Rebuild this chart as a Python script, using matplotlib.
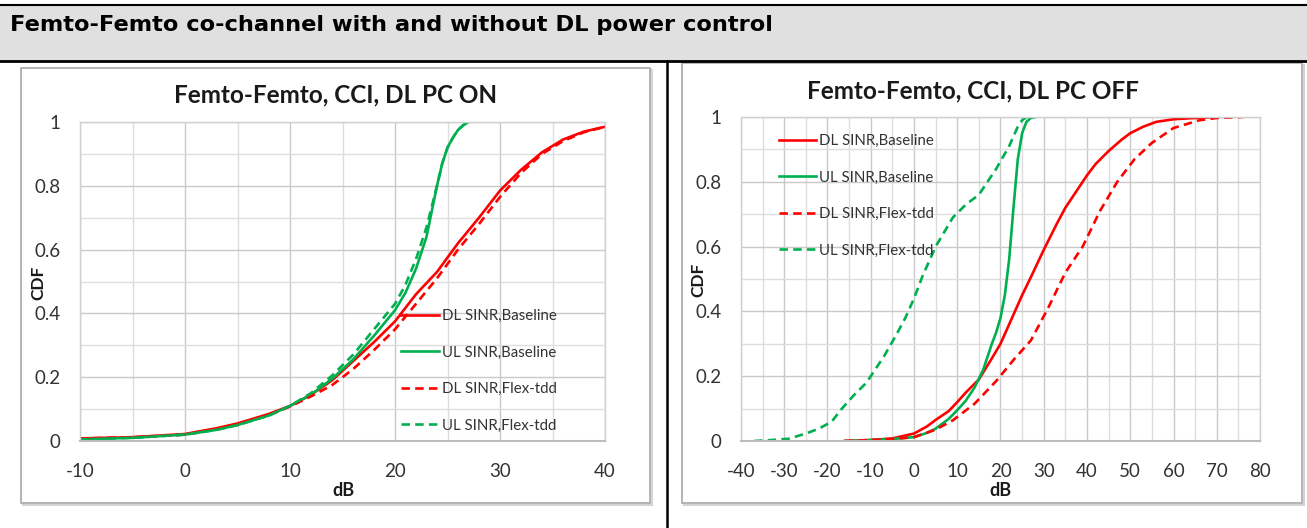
"""
Femto-Femto co-channel CDF charts (DL power control ON / OFF), laid out
like the table cell they were pasted into.
"""

import matplotlib
matplotlib.use('Agg')
import matplotlib.pyplot as plt
from matplotlib.patches import Rectangle
from matplotlib.lines import Line2D
from matplotlib.ticker import MultipleLocator, FuncFormatter

W, H = 1307, 528

RED = '#ff0000'
GREEN = '#00b050'
CHART_FONT = ['Lato', 'DejaVu Sans']
plt.rcParams['axes.unicode_minus'] = False

HEADER = 'Femto-Femto co-channel with and without DL power control'
TITLES = ['Femto-Femto, CCI, DL PC ON', 'Femto-Femto, CCI, DL PC OFF']
LABELS = ['DL SINR,Baseline', 'UL SINR,Baseline', 'DL SINR,Flex-tdd', 'UL SINR,Flex-tdd']

# ---- DL PC ON (left chart) ----
on_dl_base_x = [-10, -5, 0, 3, 5, 8, 10, 12, 14, 16, 18, 20, 22, 24, 26, 28, 30, 32, 34, 36, 38, 40]
on_dl_base_y = [0.008, 0.012, 0.022, 0.04, 0.055, 0.085, 0.11, 0.145, 0.19, 0.25, 0.31, 0.375,
                0.46, 0.53, 0.62, 0.70, 0.785, 0.85, 0.905, 0.945, 0.97, 0.985]
on_ul_base_x = [-10, -5, 0, 3, 5, 8, 10, 12, 14, 16, 18, 20, 21, 22, 23, 24, 24.5, 25, 25.5, 26, 26.5, 27]
on_ul_base_y = [0.005, 0.01, 0.02, 0.035, 0.05, 0.08, 0.11, 0.145, 0.195, 0.255, 0.33, 0.41,
                0.465, 0.54, 0.64, 0.80, 0.87, 0.92, 0.95, 0.975, 0.99, 1.0]
on_dl_flex_x = [-10, -5, 0, 3, 5, 8, 10, 12, 14, 16, 18, 20, 22, 24, 26, 28, 30, 32, 34, 36, 38, 40]
on_dl_flex_y = [0.008, 0.012, 0.02, 0.038, 0.052, 0.082, 0.108, 0.14, 0.175, 0.225, 0.285, 0.35,
                0.43, 0.51, 0.60, 0.68, 0.765, 0.84, 0.90, 0.94, 0.968, 0.985]
on_ul_flex_x = [-10, -5, 0, 3, 5, 8, 10, 12, 14, 16, 18, 20, 21, 22, 23, 24, 24.5, 25, 25.5, 26, 26.5, 27]
on_ul_flex_y = [0.005, 0.01, 0.02, 0.035, 0.05, 0.08, 0.11, 0.15, 0.205, 0.27, 0.35, 0.43,
                0.49, 0.57, 0.67, 0.80, 0.87, 0.92, 0.95, 0.975, 0.99, 1.0]

# ---- DL PC OFF (right chart) ----
off_dl_base_x = [-16, -10, -5, 0, 3, 5, 8, 10, 12, 15, 18, 20, 23, 25, 27, 30, 33, 35, 38, 40,
                 42, 45, 48, 50, 53, 56, 60, 65, 70]
off_dl_base_y = [0.0, 0.003, 0.008, 0.023, 0.045, 0.065, 0.092, 0.12, 0.15, 0.19, 0.255, 0.30,
                 0.39, 0.45, 0.505, 0.59, 0.67, 0.72, 0.78, 0.82, 0.855, 0.895, 0.93, 0.95,
                 0.97, 0.985, 0.993, 0.997, 1.0]
off_ul_base_x = [-16, -10, -5, 0, 3, 5, 8, 10, 12, 14, 16, 18, 19, 20, 21, 22, 23, 24, 25, 26, 27, 28]
off_ul_base_y = [0.0, 0.003, 0.006, 0.012, 0.025, 0.038, 0.068, 0.095, 0.125, 0.165, 0.22, 0.30,
                 0.335, 0.38, 0.45, 0.56, 0.72, 0.87, 0.95, 0.985, 0.997, 1.0]
off_dl_flex_x = [-16, -10, -5, 0, 5, 9, 14, 19, 23, 27, 31, 35, 39, 43, 47, 51, 55, 60, 66, 70, 76]
off_dl_flex_y = [0.0, 0.003, 0.006, 0.012, 0.035, 0.064, 0.115, 0.185, 0.25, 0.31, 0.41, 0.52,
                 0.60, 0.71, 0.80, 0.87, 0.92, 0.966, 0.99, 0.997, 1.0]
off_ul_flex_x = [-37, -33, -29, -25, -22, -19, -17, -14, -11, -7, -4, -2, 0, 2, 5, 9, 12, 15,
                 19, 22, 24, 25, 26]
off_ul_flex_y = [0.0, 0.003, 0.007, 0.023, 0.038, 0.06, 0.095, 0.14, 0.18, 0.26, 0.33, 0.38,
                 0.44, 0.51, 0.60, 0.69, 0.73, 0.76, 0.84, 0.91, 0.97, 0.99, 1.0]


def fx(px):
    return px / W


def fy(py):
    return 1 - py / H


def fig_rect(fig, x0, y0, x1, y1, **kw):
    fig.add_artist(Rectangle((fx(x0), fy(y1)), fx(x1) - fx(x0), fy(y0) - fy(y1),
                             transform=fig.transFigure, zorder=-5, **kw))


def fig_line(fig, x0, y0, x1, y1, **kw):
    fig.add_artist(Line2D([fx(x0), fx(x1)], [fy(y0), fy(y1)], transform=fig.transFigure, **kw))


def draw_chart(fig, box, frame, xlim, title, series, legend_at, title_at, cdf_at, db_at):
    """box = plot area in pixels (left, top, right, bottom)"""
    l, t, r, b = box
    # chart frame with a soft shadow, like the pasted Excel object
    fx0, fy0, fx1, fy1 = frame
    fig_rect(fig, fx0 + 2, fy0 + 2, fx1 + 2, fy1 + 2, facecolor='none', edgecolor='#d4d4d4', lw=1.5)
    fig_rect(fig, fx0, fy0, fx1, fy1, facecolor='white', edgecolor='#a8a8a8', lw=1.2)

    ax = fig.add_axes([fx(l), fy(b), fx(r) - fx(l), fy(t) - fy(b)])
    ax.set_zorder(5)
    ax.set_facecolor('none')
    ax.set_xlim(*xlim)
    ax.set_ylim(0, 1)
    ax.xaxis.set_major_locator(MultipleLocator(10))
    ax.xaxis.set_minor_locator(MultipleLocator(5))
    ax.yaxis.set_major_locator(MultipleLocator(0.2))
    ax.yaxis.set_minor_locator(MultipleLocator(0.1))
    ax.yaxis.set_major_formatter(FuncFormatter(lambda v, p: '%g' % round(v, 1)))
    ax.grid(True, which='major', color='#c9c9c9', lw=1.0)
    ax.grid(True, which='minor', color='#dedede', lw=1.0)
    ax.set_axisbelow(True)
    for s in ax.spines.values():
        s.set_color('#d0d0d0')
        s.set_linewidth(1.0)
    ax.spines['bottom'].set_color('#bdbdbd')
    ax.spines['bottom'].set_linewidth(1.5)
    ax.tick_params(which='both', length=0, labelsize=13.5, labelcolor='#333333')
    ax.tick_params(axis='y', pad=14)
    ax.tick_params(axis='x', pad=16)
    for lab in ax.get_xticklabels() + ax.get_yticklabels():
        lab.set_family(CHART_FONT)

    styles = [(RED, '-'), (GREEN, '-'), (RED, (0, (3.2, 2.0))), (GREEN, (0, (3.2, 2.0)))]
    for (xs, ys), (c, ls), lab in zip(series, styles, LABELS):
        ax.plot(xs, ys, color=c, ls=ls, lw=1.9, label=lab)

    lx, ly = legend_at
    leg = ax.legend(loc='upper left', bbox_to_anchor=((lx - l) / (r - l), (b - ly) / (b - t)),
                    frameon=False, borderaxespad=0, borderpad=0, handlelength=2.5,
                    handletextpad=0.2, labelspacing=1.5,
                    prop={'family': CHART_FONT, 'size': 10.8})
    for txt in leg.get_texts():
        txt.set_color('#333333')

    fig.text(fx(title_at[0]), fy(title_at[1]), title,
             ha='center', va='center', fontsize=17.5, fontweight='bold', family=CHART_FONT,
             color='#1a1a1a')
    fig.text(fx(cdf_at[0]), fy(cdf_at[1]), 'CDF', rotation=90, ha='center', va='center',
             fontsize=12.5, fontweight='bold', family=CHART_FONT, color='#1a1a1a')
    fig.text(fx(db_at[0]), fy(db_at[1]), 'dB', ha='center', va='center',
             fontsize=13, fontweight='bold', family=CHART_FONT, color='#1a1a1a')
    return ax


fig = plt.figure(figsize=(W / 100, H / 100), dpi=100)

# table header cell
fig_rect(fig, 0, 5, W, 61, facecolor='#e0e0e0', edgecolor='none')
fig_line(fig, 0, 5, W, 5, color='black', lw=1.5)
fig_line(fig, 0, 61, W, 61, color='black', lw=2.0)
fig_line(fig, 667, 61, 667, H, color='black', lw=1.8)
fig.text(fx(10), fy(25), HEADER, ha='left', va='center', fontsize=16.2, fontweight='bold',
         family=['DejaVu Sans'], color='black')

draw_chart(fig, (80, 122, 605, 441), (21, 68, 650, 503), (-10, 40), TITLES[0],
           [(on_dl_base_x, on_dl_base_y), (on_ul_base_x, on_ul_base_y),
            (on_dl_flex_x, on_dl_flex_y), (on_ul_flex_x, on_ul_flex_y)],
           legend_at=(401, 309), title_at=(336, 95), cdf_at=(38, 283), db_at=(343, 490))

draw_chart(fig, (741, 117, 1260, 441), (682, 63, 1302, 503), (-40, 80), TITLES[1],
           [(off_dl_base_x, off_dl_base_y), (off_ul_base_x, off_ul_base_y),
            (off_dl_flex_x, off_dl_flex_y), (off_ul_flex_x, off_ul_flex_y)],
           legend_at=(779, 134), title_at=(973, 91), cdf_at=(698, 280), db_at=(1000, 490))

fig.savefig('out.png', dpi=100)
